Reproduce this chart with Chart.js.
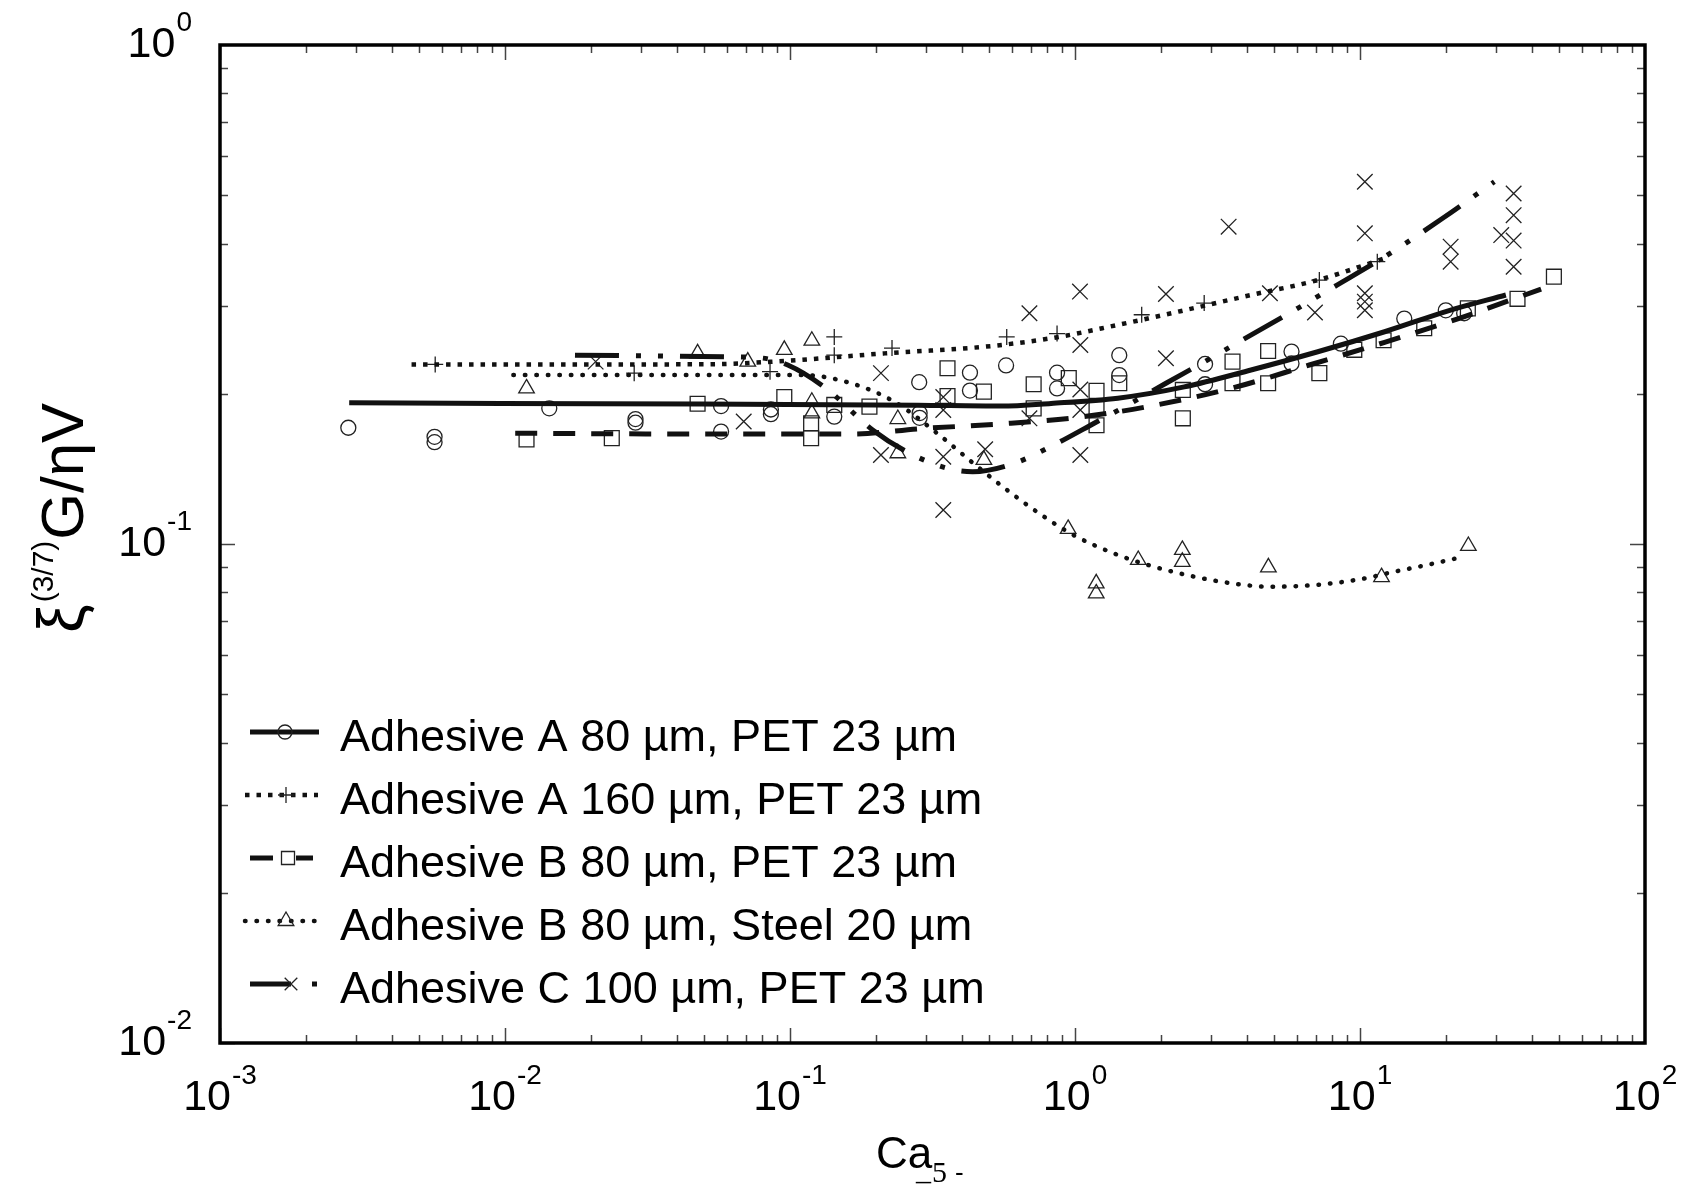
<!DOCTYPE html>
<html>
<head>
<meta charset="utf-8">
<script src="https://cdn.jsdelivr.net/npm/chart.js@4.4.1/dist/chart.umd.min.js"></script>
<style>
  html, body { margin: 0; padding: 0; background: #fff; }
  #wrap { width: 1690px; height: 1191px; }
</style>
</head>
<body>
<div id="wrap"><canvas id="c" width="1690" height="1191"></canvas></div>
<script>
/* values (log-log) */

// Adhesive A 80 µm, PET 23 µm  (circles)
const aPetX = [0.00282, 0.00566, 0.00566, 0.0143, 0.0287, 0.0287, 0.0573, 0.0573, 0.0857, 0.0857,
  0.143, 0.284, 0.285, 0.285, 0.428, 0.428, 0.573, 0.865, 0.865, 1.43, 1.43, 2.86, 2.86,
  5.75, 5.75, 8.57, 14.3, 20.0, 23.2];
const aPetY = [0.171, 0.164, 0.160, 0.187, 0.178, 0.175, 0.189, 0.168, 0.186, 0.182,
  0.180, 0.211, 0.183, 0.179, 0.2205, 0.203, 0.228, 0.2205, 0.205, 0.239, 0.218, 0.2295, 0.209,
  0.243, 0.230, 0.252, 0.283, 0.294, 0.290];

// Adhesive A 160 µm, PET 23 µm  (plus)
const a160X = [0.00569, 0.0284, 0.0851, 0.143, 0.143, 0.228, 0.576, 0.865, 1.714, 2.84, 7.20, 11.5];
const a160Y = [0.229, 0.220, 0.2215, 0.260, 0.239, 0.247, 0.260, 0.264, 0.288, 0.304, 0.338, 0.368];

// Adhesive B 80 µm, PET 23 µm  (squares)
const bPetX = [0.0119, 0.0237, 0.0474, 0.0955, 0.1186, 0.1186, 0.143, 0.190, 0.357, 0.357,
  0.479, 0.716, 0.716, 0.951, 1.19, 1.19, 1.19, 1.43, 2.39, 2.39, 3.57, 3.57, 4.76, 4.76,
  7.2, 9.55, 12.1, 16.8, 23.9, 35.7, 47.9];
const bPetY = [0.162, 0.163, 0.191, 0.197, 0.1745, 0.163, 0.190, 0.1885, 0.225, 0.198,
  0.202, 0.209, 0.187, 0.215, 0.2027, 0.1873, 0.173, 0.210, 0.2036, 0.1786, 0.232, 0.210, 0.2437, 0.210,
  0.220, 0.245, 0.256, 0.2706, 0.2966, 0.310, 0.3433];

// Adhesive B 80 µm, Steel 20 µm  (triangles)
const bSteelX = [0.0119, 0.0474, 0.0711, 0.0955, 0.1193, 0.1193, 0.1193, 0.239, 0.239, 0.479,
  0.946, 1.187, 1.187, 1.667, 2.38, 2.38, 4.77, 11.9, 24.0];
const bSteelY = [0.205, 0.241, 0.232, 0.245, 0.2555, 0.1928, 0.1827, 0.178, 0.152, 0.1474,
  0.1072, 0.0834, 0.0796, 0.0929, 0.0973, 0.0921, 0.0898, 0.0858, 0.0991];

// Adhesive C 100 µm, PET 23 µm  (x)
const cPetX = [0.0208, 0.0688, 0.2085, 0.2085, 0.345, 0.345, 0.345, 0.345, 0.484, 0.692, 0.692,
  1.044, 1.044, 1.044, 1.044, 1.041, 2.085, 2.085, 3.46, 4.83, 6.95,
  10.4, 10.4, 10.4, 10.4, 10.4, 20.8, 20.8, 31.3, 34.6, 34.6, 34.6, 34.6];
const cPetY = [0.232, 0.176, 0.220, 0.1508, 0.197, 0.1856, 0.1496, 0.117, 0.1548, 0.290, 0.1786,
  0.2505, 0.204, 0.1856, 0.1508, 0.3205, 0.317, 0.2356, 0.4324, 0.318, 0.291,
  0.532, 0.4194, 0.318, 0.306, 0.294, 0.3943, 0.368, 0.416, 0.504, 0.456, 0.4055, 0.3595];

// fitted curves
const fitAPetX = [0.00284, 0.00968, 0.0488, 0.2807, 0.5495, 0.824, 1.413, 2.418, 4.145, 7.11, 12.2, 20.8, 32.5];
const fitAPetY = [0.192, 0.1913, 0.1908, 0.1897, 0.189, 0.1913, 0.196, 0.2065, 0.2232, 0.2428, 0.2663, 0.2943, 0.3155];

const fitA160X = [0.0047, 0.0488, 0.0955, 0.2142, 0.481, 0.824, 1.413, 2.418, 4.145, 7.11, 12.2];
const fitA160Y = [0.229, 0.2291, 0.2327, 0.241, 0.2485, 0.2584, 0.2748, 0.294, 0.3155, 0.338, 0.3737];

const fitBPetX = [0.01086, 0.0488, 0.1637, 0.288, 0.5454, 1.035, 1.848, 3.52, 6.64, 12.2, 22.3, 43.2];
const fitBPetY = [0.1667, 0.1661, 0.1661, 0.1703, 0.174, 0.1795, 0.189, 0.205, 0.2284, 0.2536, 0.2833, 0.3243];

const fitBSteelX = [0.0107, 0.1093, 0.1637, 0.2322, 0.334, 0.4432, 0.588, 0.7936, 1.001, 1.385, 1.80,
  2.57, 3.72, 4.8, 7.02, 10.02, 13.2, 17.2, 22.5];
const fitBSteelY = [0.218, 0.2182, 0.210, 0.1928, 0.1654, 0.1446, 0.1273, 0.1126, 0.1038, 0.0955, 0.0908,
  0.0862, 0.0831, 0.0821, 0.0828, 0.0850, 0.0880, 0.0908, 0.0940];

const fitCPetX = [0.0176, 0.0596, 0.0791, 0.0982, 0.1337, 0.195, 0.2659, 0.3673, 0.4375, 0.612, 0.842,
  1.138, 1.535, 2.085, 2.843, 3.824, 6.04, 8.13, 12.5, 19.5, 29.6];
const fitCPetY = [0.239, 0.2373, 0.236, 0.2284, 0.2051, 0.1693, 0.1515, 0.1412, 0.1396, 0.1451, 0.1579,
  0.1732, 0.19, 0.210, 0.2318, 0.2555, 0.2967, 0.3279, 0.3796, 0.4495, 0.532];

const xDecades = [-3, -2, -1, 0, 1, 2];
const yDecades = [-2, -1, 0];

const legendLabels = [
  'Adhesive A 80 µm, PET 23 µm',
  'Adhesive A 160 µm, PET 23 µm',
  'Adhesive B 80 µm, PET 23 µm',
  'Adhesive B 80 µm, Steel 20 µm',
  'Adhesive C 100 µm, PET 23 µm'
];

/* ─── helpers ─── */
const INK = '#111';
const FONT = "'Liberation Sans', Arial, sans-serif";

function pts(xs, ys) { return xs.map((x, i) => ({ x, y: ys[i] })); }

function markerSet(xs, ys, style, radius) {
  return {
    data: pts(xs, ys),
    showLine: false,
    pointStyle: style,
    pointRadius: radius,
    pointBorderColor: '#222',
    pointBorderWidth: 1.3,
    pointBackgroundColor: 'rgba(0,0,0,0)',
    order: 2
  };
}

function fitSet(xs, ys, width, dash, cap) {
  return {
    data: pts(xs, ys),
    showLine: true,
    borderColor: INK,
    borderWidth: width,
    borderDash: dash,
    borderCapStyle: cap || 'butt',
    cubicInterpolationMode: 'monotone',
    pointRadius: 0,
    order: 0
  };
}

const DASH_A160 = [4.5, 7];
const DASH_BPET = [22, 16];
const DASH_STEEL = [0.5, 11];
const DASH_C = [44, 17, 5, 17, 5, 17];

// marker drawn for the legend samples
function marker(ctx, style, x, y, r) {
  ctx.save();
  ctx.setLineDash([]);
  ctx.lineWidth = 1.3;
  ctx.strokeStyle = '#222';
  ctx.beginPath();
  if (style === 'circle') {
    ctx.arc(x, y, r, 0, Math.PI * 2);
  } else if (style === 'cross') {
    ctx.moveTo(x - r, y); ctx.lineTo(x + r, y);
    ctx.moveTo(x, y - r); ctx.lineTo(x, y + r);
  } else if (style === 'rect') {
    ctx.rect(x - r, y - r, 2 * r, 2 * r);
  } else if (style === 'triangle') {
    ctx.moveTo(x, y - r);
    ctx.lineTo(x + r * 0.87, y + r * 0.5);
    ctx.lineTo(x - r * 0.87, y + r * 0.5);
    ctx.closePath();
  } else if (style === 'crossRot') {
    const d = r * 0.7;
    ctx.moveTo(x - d, y - d); ctx.lineTo(x + d, y + d);
    ctx.moveTo(x - d, y + d); ctx.lineTo(x + d, y - d);
  }
  ctx.stroke();
  ctx.restore();
}

function seg(ctx, x1, x2, y, w, dash, cap) {
  ctx.save();
  ctx.strokeStyle = INK;
  ctx.lineWidth = w;
  ctx.lineCap = cap || 'butt';
  ctx.setLineDash(dash || []);
  ctx.beginPath();
  ctx.moveTo(x1, y); ctx.lineTo(x2, y);
  ctx.stroke();
  ctx.restore();
}

// "10" with a raised exponent
function powerLabel(ctx, exp, x, baseline, align) {
  ctx.font = `43px ${FONT}`;
  const base = '10';
  const wb = ctx.measureText(base).width;
  ctx.font = `28px ${FONT}`;
  const sup = String(exp);
  const ws = ctx.measureText(sup).width;
  let left = align === 'right' ? x - wb - ws - 1 : x - (wb + ws + 1) / 2;
  ctx.font = `43px ${FONT}`;
  ctx.fillText(base, left, baseline);
  ctx.font = `28px ${FONT}`;
  ctx.fillText(sup, left + wb + 1, baseline - 26);
}

/* ─── frame, inward ticks, labels, titles, legend ─── */
const framePlugin = {
  id: 'frame',
  afterDatasetsDraw(chart) {
    const { ctx, chartArea: a, scales: { x, y } } = chart;
    ctx.save();

    // ticks
    ctx.strokeStyle = '#444';
    ctx.lineWidth = 1.5;
    ctx.beginPath();
    for (let e = xDecades[0]; e < xDecades[xDecades.length - 1]; e++) {
      for (let m = 1; m < 10; m++) {
        const px = Math.round(x.getPixelForValue(m * Math.pow(10, e))) + 0.5;
        const len = m === 1 ? 15 : 8;
        ctx.moveTo(px, a.bottom); ctx.lineTo(px, a.bottom - len);
        ctx.moveTo(px, a.top); ctx.lineTo(px, a.top + len);
      }
    }
    for (let e = yDecades[0]; e < yDecades[yDecades.length - 1]; e++) {
      for (let m = 1; m < 10; m++) {
        const py = Math.round(y.getPixelForValue(m * Math.pow(10, e))) + 0.5;
        const len = m === 1 ? 15 : 8;
        ctx.moveTo(a.left, py); ctx.lineTo(a.left + len, py);
        ctx.moveTo(a.right, py); ctx.lineTo(a.right - len, py);
      }
    }
    ctx.stroke();

    // border
    ctx.strokeStyle = '#000';
    ctx.lineWidth = 3.5;
    ctx.strokeRect(a.left, a.top, a.right - a.left, a.bottom - a.top);

    // tick labels
    ctx.fillStyle = '#000';
    ctx.textAlign = 'left';
    ctx.textBaseline = 'alphabetic';
    xDecades.forEach(e => powerLabel(ctx, e, x.getPixelForValue(Math.pow(10, e)), a.bottom + 67));
    yDecades.forEach(e => powerLabel(ctx, e, 192, y.getPixelForValue(Math.pow(10, e)) + 12, 'right'));

    // x title: Ca with the odd subscript of the original
    ctx.font = `44px ${FONT}`;
    ctx.fillText('Ca', 876, 1168);
    ctx.font = "30px 'Liberation Serif', 'DejaVu Serif', serif";
    ctx.fillText('5', 932, 1182);
    ctx.fillText('_', 916, 1180);
    ctx.font = `26px ${FONT}`;
    ctx.fillText('-', 955, 1181);

    // y title, rotated
    ctx.save();
    ctx.translate(83, 633);
    ctx.rotate(-Math.PI / 2);
    ctx.font = `64px ${FONT}`;
    ctx.fillText('ξ', 0, 0);
    let off = ctx.measureText('ξ').width + 2;
    ctx.font = `30px ${FONT}`;
    ctx.fillText('(3/7)', off, -30);
    off += ctx.measureText('(3/7)').width + 1;
    ctx.font = `60px ${FONT}`;
    ctx.fillText('G/ηV', off, 0);
    ctx.restore();

    // legend
    const rows = legendLabels.map((_, i) => 751 + i * 63);
    ctx.font = `45px ${FONT}`;
    legendLabels.forEach((t, i) => ctx.fillText(t, 340, rows[i]));
    const ly = rows.map(r => r - 19);
    seg(ctx, 250, 319, ly[0], 5);
    marker(ctx, 'circle', 285, ly[0], 7);
    seg(ctx, 245, 318, ly[1], 4.5, DASH_A160);
    marker(ctx, 'cross', 286, ly[1], 8);
    seg(ctx, 250, 273, ly[2], 5);
    seg(ctx, 296, 313, ly[2], 5);
    marker(ctx, 'rect', 288, ly[2], 6.5);
    seg(ctx, 245, 318, ly[3], 4.5, DASH_STEEL, 'round');
    marker(ctx, 'triangle', 286, ly[3], 9);
    seg(ctx, 250, 291, ly[4], 5);
    marker(ctx, 'crossRot', 291, ly[4], 9);
    seg(ctx, 312, 317, ly[4], 5);

    ctx.restore();
  }
};

new Chart(document.getElementById('c'), {
  type: 'scatter',
  data: {
    datasets: [
      fitSet(fitAPetX, fitAPetY, 5, []),
      fitSet(fitA160X, fitA160Y, 4.5, DASH_A160),
      fitSet(fitBPetX, fitBPetY, 5, DASH_BPET),
      fitSet(fitBSteelX, fitBSteelY, 4.5, DASH_STEEL, 'round'),
      fitSet(fitCPetX, fitCPetY, 5, DASH_C),
      markerSet(aPetX, aPetY, 'circle', 7.5),
      markerSet(a160X, a160Y, 'cross', 8),
      markerSet(bPetX, bPetY, 'rect', 10.5),
      markerSet(bSteelX, bSteelY, 'triangle', 9),
      markerSet(cPetX, cPetY, 'crossRot', 11)
    ]
  },
  options: {
    responsive: false,
    devicePixelRatio: 1,
    animation: false,
    events: [],
    layout: { autoPadding: false, padding: { left: 0, top: 45, right: 45, bottom: 0 } },
    plugins: { legend: { display: false }, tooltip: { enabled: false }, title: { display: false } },
    scales: {
      x: {
        type: 'logarithmic', min: 1e-3, max: 1e2,
        grid: { display: false }, border: { display: false },
        ticks: { display: false },
        afterFit: s => { s.height = 148; }
      },
      y: {
        type: 'logarithmic', min: 1e-2, max: 1,
        grid: { display: false }, border: { display: false },
        ticks: { display: false },
        afterFit: s => { s.width = 220; }
      }
    }
  },
  plugins: [framePlugin]
});
</script>
</body>
</html>
